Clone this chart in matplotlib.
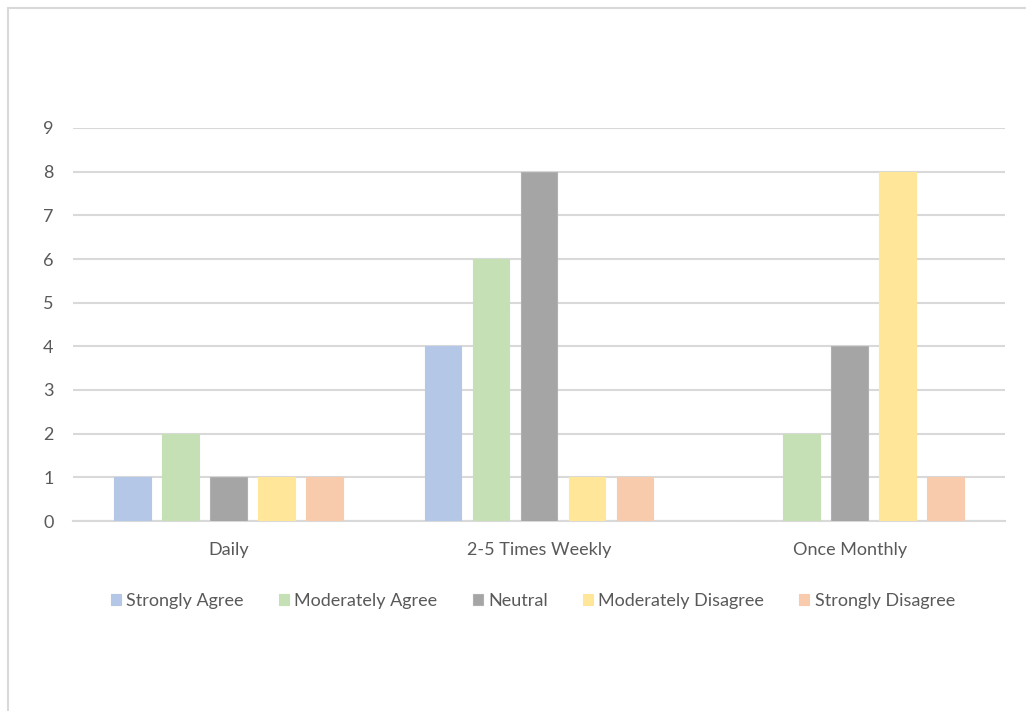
import matplotlib
matplotlib.use("Agg")
import matplotlib.pyplot as plt
import numpy as np
from matplotlib.patches import Rectangle

categories = ["Daily", "2-5 Times Weekly", "Once Monthly"]
series_names = ["Strongly Agree", "Moderately Agree", "Neutral",
                "Moderately Disagree", "Strongly Disagree"]
strongly_agree = [1, 4, 0]
moderately_agree = [2, 6, 2]
neutral = [1, 8, 4]
moderately_disagree = [1, 1, 8]
strongly_disagree = [1, 1, 1]
series_values = [strongly_agree, moderately_agree, neutral,
                 moderately_disagree, strongly_disagree]
colors = ["#b4c7e7", "#c5e0b4", "#a5a5a5", "#ffe699", "#f8cbad"]

plt.rcParams["font.family"] = ["Lato", "DejaVu Sans"]
text_color = "#595959"

fig = plt.figure(figsize=(10.26, 7.11), dpi=100)
fig.patch.set_facecolor("white")

# chart frame
fig.add_artist(Rectangle((8 / 1026, -0.05), 1.1, 1 - 8 / 711 + 0.05,
                         transform=fig.transFigure, fill=False,
                         edgecolor="#d9d9d9", linewidth=1.5))

ax = fig.add_axes([73 / 1026, 1 - 521 / 711, (1005 - 73) / 1026, (521 - 128) / 711])

x = np.arange(len(categories))
slot = 0.1545
width = 0.119
for i, (name, vals, c) in enumerate(zip(series_names, series_values, colors)):
    offs = (i - 2) * slot
    ec = "#b0b0b0" if name == "Neutral" else c
    ax.bar(x + offs, vals, width, color=c, edgecolor=ec, linewidth=0.8,
           label=name, zorder=3)

ax.set_xlim(-0.5, 2.5)
ax.set_ylim(0, 9)
ax.set_yticks(range(0, 10))
ax.yaxis.grid(True, color="#d9d9d9", linewidth=1.5, zorder=0)
ax.set_axisbelow(True)
for s in ["top", "right", "left"]:
    ax.spines[s].set_visible(False)
ax.spines["bottom"].set_color("#d9d9d9")
ax.spines["bottom"].set_linewidth(1.5)
ax.tick_params(axis="both", length=0, labelsize=13, colors=text_color)
ax.tick_params(axis="y", pad=14)
ax.tick_params(axis="x", pad=15)
ax.set_xticks(x)
ax.set_xticklabels(categories)

leg = fig.legend(loc="center", bbox_to_anchor=(533 / 1026, 1 - 601 / 711),
                 ncol=5, frameon=False, fontsize=13, handlelength=0.55,
                 handleheight=0.55, handletextpad=0.3, columnspacing=1.95)
for t in leg.get_texts():
    t.set_color(text_color)

fig.savefig("out.png", dpi=100, facecolor="white")
